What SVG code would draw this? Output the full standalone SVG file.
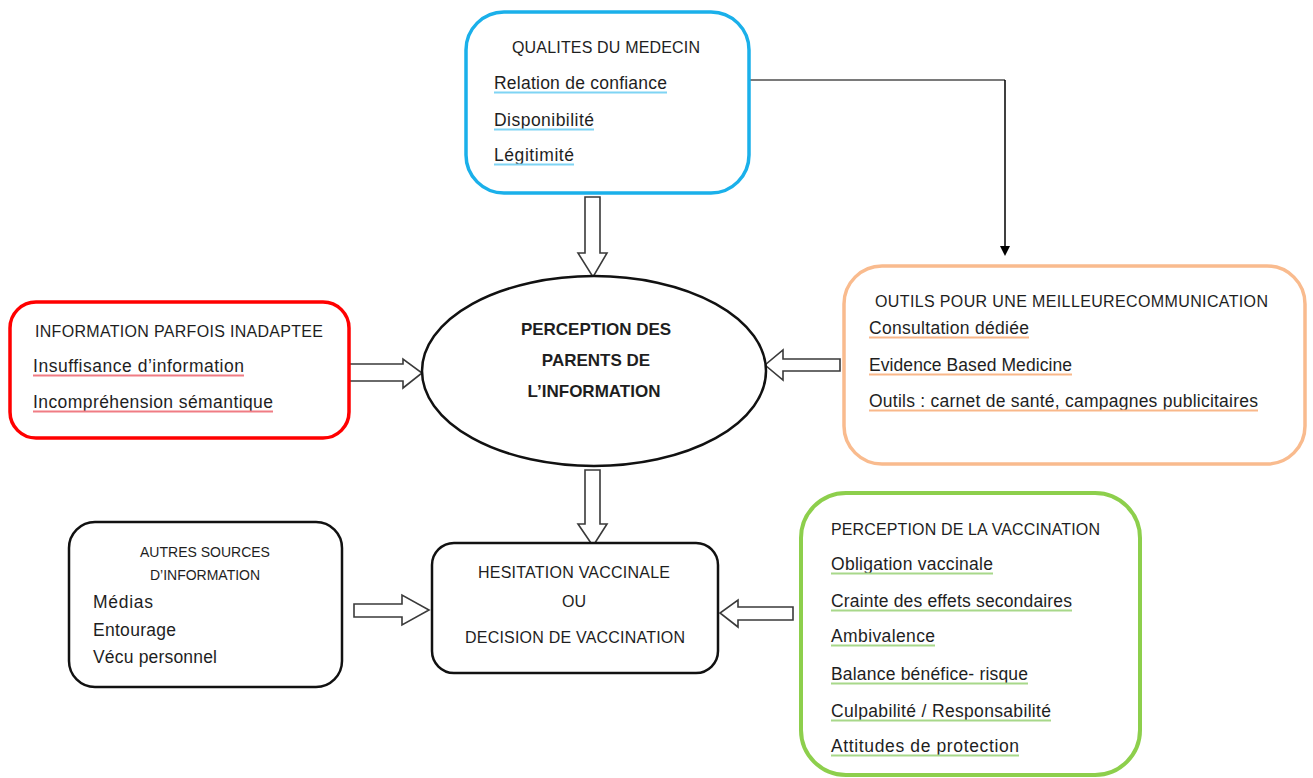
<svg xmlns="http://www.w3.org/2000/svg" width="1313" height="778" viewBox="0 0 1313 778">
<style>
text{font-family:"Liberation Sans",Arial,sans-serif;fill:#1e1e1e}
.h{font-size:16px}
.s{font-size:14px}
.i{font-size:17.5px}
.b{font-size:17px;font-weight:bold}
.c{text-anchor:middle}
.box{fill:#fff}
.blk{fill:#fff;stroke:#3a3a3a;stroke-width:1.6}
.ul{stroke-width:2}
</style>
<defs>
<marker id="ah" markerWidth="10" markerHeight="10" refX="6" refY="5" orient="auto" markerUnits="userSpaceOnUse" viewBox="0 0 10 10">
<path d="M0,0 L10,5 L0,10 z" fill="#000"/>
</marker>
</defs>
<rect width="1313" height="778" fill="#fff"/>

<g id="connectors">
<polygon class="blk" points="585,197 600,197 600,253 607,253 593,277 578,253 585,253"/>
<polygon class="blk" points="585,470 600,470 600,524 607,524 593,546 578,524 585,524"/>
<polygon class="blk" points="349,364 403,364 403,359 422,373 403,388 403,381 349,381"/>
<polygon class="blk" points="840,359 783,359 783,350 765,365 783,380 783,371 840,371"/>
<polygon class="blk" points="354,604 402,604 402,595 429,610 402,625 402,617 354,617"/>
<polygon class="blk" points="793,607 738,607 738,600 720,613 738,627 738,620 793,620"/>
<line x1="750" y1="80" x2="1005" y2="80" stroke="#7a7a7a" stroke-width="2"/>
<line x1="1005" y1="80" x2="1005" y2="252" stroke="#000" stroke-width="1.5" marker-end="url(#ah)"/>
</g>

<g id="qualites">
<rect class="box" x="466" y="12" width="283" height="181" rx="38" stroke="#1ab0ea" stroke-width="3.5"/>
<text class="h" x="512" y="53" textLength="188">QUALITES DU MEDECIN</text>
<text class="i" x="494" y="89" textLength="173">Relation de confiance</text>
<line class="ul" x1="494" y1="92.5" x2="667" y2="92.5" stroke="#7fd4f4"/>
<text class="i" x="494" y="126" textLength="100">Disponibilité</text>
<line class="ul" x1="494" y1="129.5" x2="594" y2="129.5" stroke="#7fd4f4"/>
<text class="i" x="494" y="161" textLength="80">Légitimité</text>
<line class="ul" x1="494" y1="164.5" x2="574" y2="164.5" stroke="#7fd4f4"/>
</g>

<g id="information">
<rect class="box" x="10" y="302" width="339" height="136" rx="26" stroke="#ff0000" stroke-width="3.5"/>
<text class="h" x="35" y="337" textLength="288">INFORMATION PARFOIS INADAPTEE</text>
<text class="i" x="33" y="372" textLength="211">Insuffisance d’information</text>
<line class="ul" x1="33" y1="375.5" x2="244" y2="375.5" stroke="#f07c84"/>
<text class="i" x="33" y="408" textLength="240">Incompréhension sémantique</text>
<line class="ul" x1="33" y1="411.5" x2="273" y2="411.5" stroke="#f07c84"/>
</g>

<g id="perception-parents">
<ellipse cx="594" cy="371" rx="172" ry="95" fill="#fff" stroke="#111" stroke-width="2.5"/>
<text class="b c" x="596" y="335">PERCEPTION DES</text>
<text class="b c" x="596" y="366">PARENTS DE</text>
<text class="b c" x="594" y="397">L’INFORMATION</text>
</g>

<g id="outils">
<rect class="box" x="844" y="266" width="461" height="198" rx="38" stroke="#f9bb8e" stroke-width="3.5"/>
<text class="h" x="875" y="307" textLength="393">OUTILS POUR UNE MEILLEURECOMMUNICATION</text>
<text class="i" x="869" y="334" textLength="160">Consultation dédiée</text>
<line class="ul" x1="869" y1="337.5" x2="1029" y2="337.5" stroke="#f9b88a"/>
<text class="i" x="869" y="371" textLength="203">Evidence Based Medicine</text>
<line class="ul" x1="869" y1="374.5" x2="1072" y2="374.5" stroke="#f9b88a"/>
<text class="i" x="869" y="407" textLength="389">Outils : carnet de santé, campagnes publicitaires</text>
<line class="ul" x1="869" y1="410.5" x2="1258" y2="410.5" stroke="#f9b88a"/>
</g>

<g id="autres-sources">
<rect class="box" x="69" y="522" width="273" height="165" rx="26" stroke="#111" stroke-width="2.5"/>
<text class="s c" x="205" y="557">AUTRES SOURCES</text>
<text class="s c" x="205" y="580">D’INFORMATION</text>
<text class="i" x="93" y="608" textLength="60">Médias</text>
<text class="i" x="93" y="636" textLength="83">Entourage</text>
<text class="i" x="93" y="663" textLength="124">Vécu personnel</text>
</g>

<g id="hesitation">
<rect class="box" x="432" y="543" width="286" height="130" rx="22" stroke="#111" stroke-width="2.5"/>
<text class="h c" x="574" y="578" textLength="192">HESITATION VACCINALE</text>
<text class="h c" x="574" y="607">OU</text>
<text class="h c" x="575" y="643" textLength="220">DECISION DE VACCINATION</text>
</g>

<g id="perception-vaccination">
<rect class="box" x="801" y="493" width="339" height="282" rx="45" stroke="#8dcf4c" stroke-width="4"/>
<text class="h" x="831" y="535" textLength="269">PERCEPTION DE LA VACCINATION</text>
<text class="i" x="831" y="570" textLength="162">Obligation vaccinale</text>
<line class="ul" x1="831" y1="573.5" x2="993" y2="573.5" stroke="#a8d88a"/>
<text class="i" x="831" y="607" textLength="241">Crainte des effets secondaires</text>
<line class="ul" x1="831" y1="610.5" x2="1072" y2="610.5" stroke="#a8d88a"/>
<text class="i" x="831" y="642" textLength="104">Ambivalence</text>
<line class="ul" x1="831" y1="645.5" x2="935" y2="645.5" stroke="#a8d88a"/>
<text class="i" x="831" y="680" textLength="197">Balance bénéfice- risque</text>
<line class="ul" x1="831" y1="683.5" x2="1028" y2="683.5" stroke="#a8d88a"/>
<text class="i" x="831" y="717" textLength="220">Culpabilité / Responsabilité</text>
<line class="ul" x1="831" y1="720.5" x2="1051" y2="720.5" stroke="#a8d88a"/>
<text class="i" x="831" y="752" textLength="188">Attitudes de protection</text>
<line class="ul" x1="831" y1="755.5" x2="1019" y2="755.5" stroke="#a8d88a"/>
</g>
</svg>
